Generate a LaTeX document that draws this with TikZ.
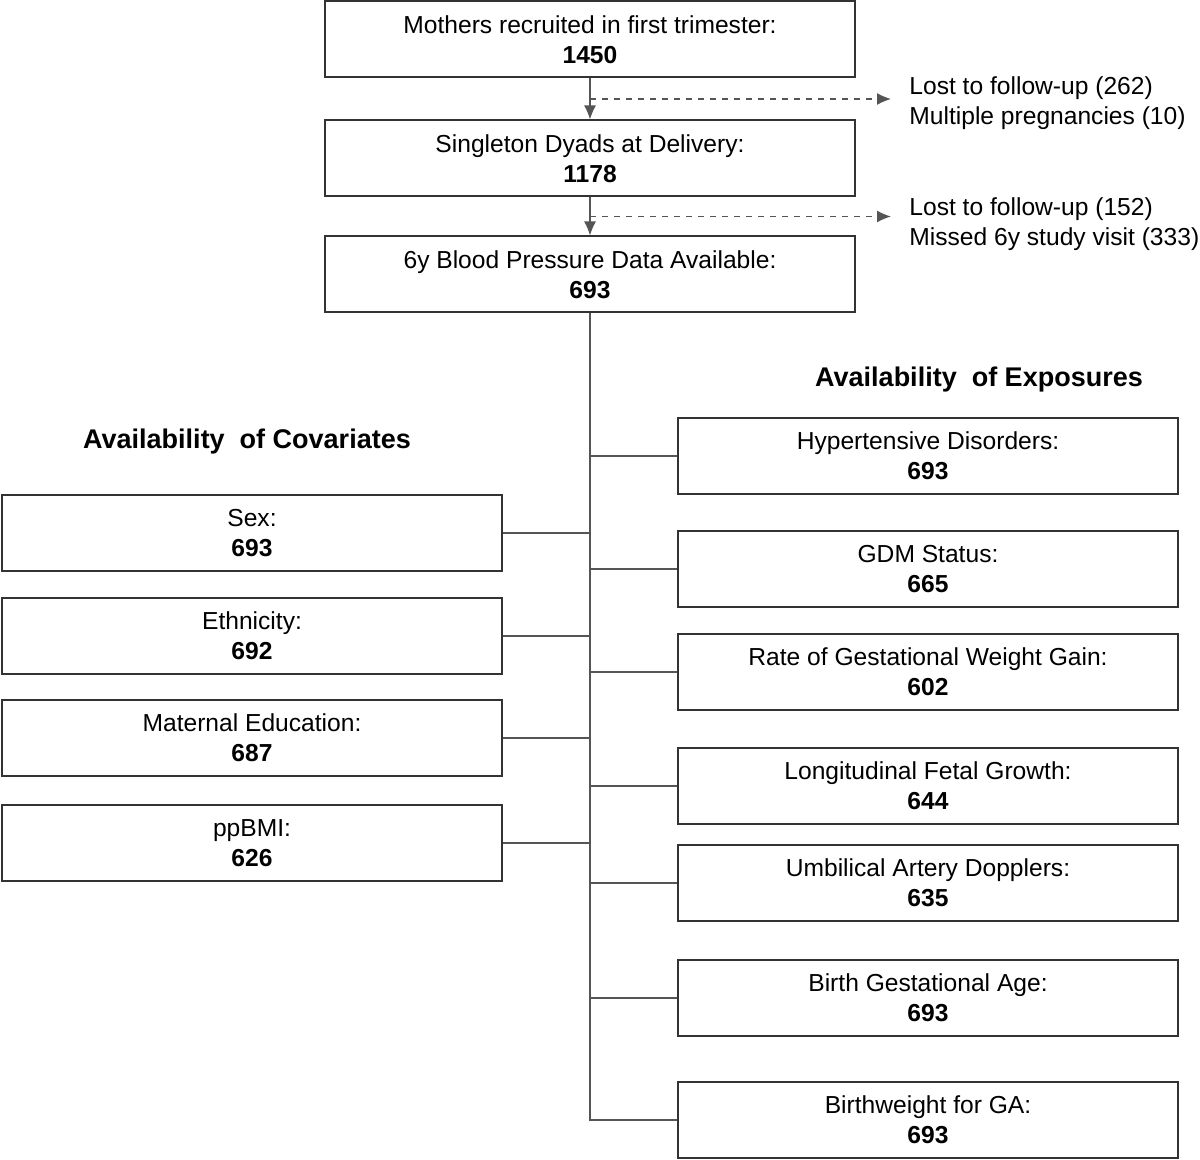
\documentclass[tikz,border=0pt]{standalone}
\usepackage{fontspec}
\setmainfont{Liberation Sans}
\usetikzlibrary{positioning, arrows.meta, calc}
\definecolor{boxline}{HTML}{333333}
\definecolor{linkline}{HTML}{555555}
\tikzset{
  box/.style={
    draw=boxline, line width=1pt, fill=white,
    minimum width=250pt, minimum height=38pt,
    align=center, inner sep=2pt,
    font=\fontsize{12.3}{15}\selectfont
  },
  widebox/.style={box, minimum width=265pt},
  note/.style={align=left, inner sep=0pt, font=\fontsize{12.3}{15}\selectfont},
  head/.style={font=\fontsize{13.5}{16}\selectfont\bfseries},
  link/.style={draw=linkline, line width=0.65pt},
  tip/.style={-{Latex[length=7pt,width=6pt]}}
}

\begin{document}
\begin{tikzpicture}[x=0.5pt, y=-0.5pt]
    \useasboundingbox (0,0) rectangle (1200,1160);

    % main stream
    \node[widebox] (rec) at (590,39.5) {Mothers recruited in first trimester:\\\textbf{1450}};
    \node[widebox, below = 20.5pt of rec] (sing) {Singleton Dyads at Delivery:\\\textbf{1178}};
    \node[widebox, below = 19pt of sing] (bp) {6y Blood Pressure Data Available:\\\textbf{693}};

    % exclusions
    \node[note, anchor=west] (lost1) at (909,103) {Lost to follow-up (262)\\Multiple pregnancies (10)};
    \node[note, anchor=west] (lost2) at (909,224) {Lost to follow-up (152)\\Missed 6y study visit (333)};

    % exposures
    \node[head] (exph) at (979,380) {Availability\ \ of Exposures};
    \node[box] (hyp) at (928,456) {Hypertensive Disorders:\\\textbf{693}};
    \node[box, below = 17.5pt of hyp] (gdm) {GDM Status:\\\textbf{665}};
    \node[box, below = 12.5pt of gdm] (gwg) {Rate of Gestational Weight Gain:\\\textbf{602}};
    \node[box, below = 18pt of gwg] (fgr) {Longitudinal Fetal Growth:\\\textbf{644}};
    \node[box, below = 9.5pt of fgr] (uad) {Umbilical Artery Dopplers:\\\textbf{635}};
    \node[box, below = 18.5pt of uad] (bga) {Birth Gestational Age:\\\textbf{693}};
    \node[box, below = 22pt of bga] (bwga) {Birthweight for GA:\\\textbf{693}};

    % covariates
    \node[head] (covh) at (247,442) {Availability\ \ of Covariates};
    \node[box] (sex) at (252,533) {Sex:\\\textbf{693}};
    \node[box, below = 12.5pt of sex] (eth) {Ethnicity:\\\textbf{692}};
    \node[box, below = 12pt of eth] (edu) {Maternal Education:\\\textbf{687}};
    \node[box, below = 13.5pt of edu] (bmi) {ppBMI:\\\textbf{626}};

    % arrows down the main stream
    \draw[link, tip] (rec) -- (sing);
    \draw[link, tip] (sing) -- (bp);
    \coordinate (x1) at ($(rec.south)!0.5!(sing.north)$);
    \coordinate (x2) at ($(sing.south)!0.5!(bp.north)$);
    \draw[link, tip, dashed] (x1) -- ([xshift=-9pt]lost1.west |- x1);
    \draw[link, tip, dashed] (x2) -- ([xshift=-9pt]lost2.west |- x2);

    % trunk and branches
    \coordinate (tend) at (bp.south |- bwga.west);
    \draw[link] (bp.south) -- (tend) -- (bwga.west);
    \foreach \n in {hyp, gdm, gwg, fgr, uad, bga}
      \draw[link] (\n.west) -- (\n.west -| tend);
    \foreach \n in {sex, eth, edu, bmi}
      \draw[link] (\n.east) -- (\n.east -| tend);
\end{tikzpicture}
\end{document}
